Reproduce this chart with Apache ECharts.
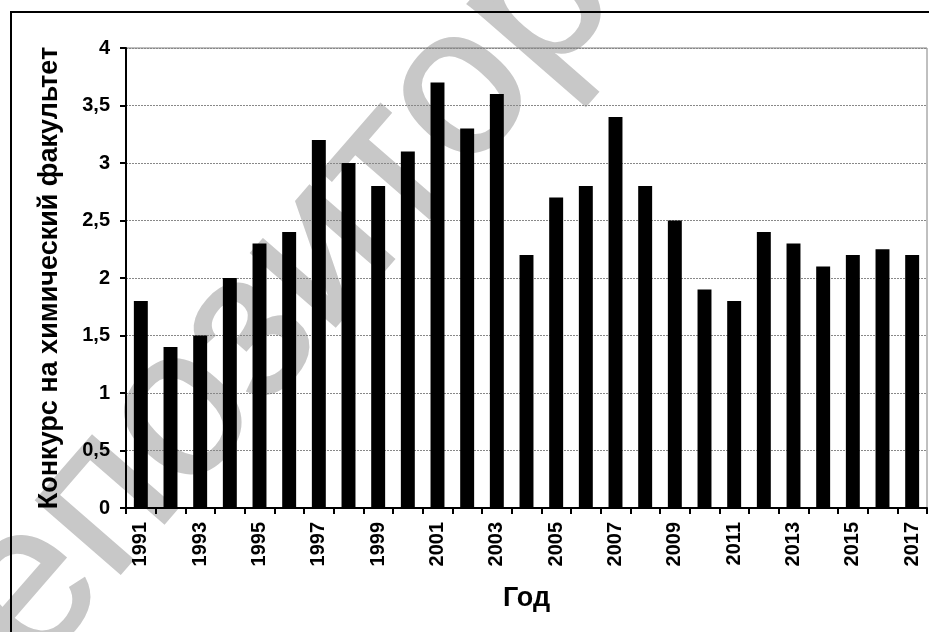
<!DOCTYPE html>
<html>
<head>
<meta charset="utf-8">
<script src="https://cdn.jsdelivr.net/npm/echarts@6/dist/echarts.min.js"></script>
<style>
html,body{margin:0;padding:0;background:#fff;}
#chart{width:929px;height:632px;}
</style>
</head>
<body>
<div id="chart"></div>
<script>
var years = ['1991','1992','1993','1994','1995','1996','1997','1998','1999','2000','2001','2002','2003','2004','2005','2006','2007','2008','2009','2010','2011','2012','2013','2014','2015','2016','2017'];
var competition = [1.8,1.4,1.5,2.0,2.3,2.4,3.2,3.0,2.8,3.1,3.7,3.3,3.6,2.2,2.7,2.8,3.4,2.8,2.5,1.9,1.8,2.4,2.3,2.1,2.2,2.25,2.2];
var yAxisTitle = 'Конкурс на химический факультет';
var xAxisTitle = 'Год';
var watermarkText = 'Репозиторий';

var chart = echarts.init(document.getElementById('chart'), null, {renderer:'canvas'});
var FONT = 'Liberation Sans, Arial, sans-serif';
var option = {
  animation: false,
  backgroundColor: '#ffffff',
  graphic: [
    {
      type: 'text', z: -10, zlevel: 0,
      x: -97, y: 735, rotation: 49 * Math.PI / 180,
      style: { text: watermarkText, font: 'normal 212px ' + FONT, fill: '#c8c8c8', stroke: '#c8c8c8', lineWidth: 2, verticalAlign: 'middle', align: 'left' },
      silent: true
    },
    {
      type: 'rect', z: 100,
      shape: { x: 11, y: 12, width: 940, height: 650 },
      style: { fill: 'none', stroke: '#000', lineWidth: 2 },
      silent: true
    }
  ],
  grid: {
    left: 126, right: 2, top: 48, bottom: 124,
    show: true, borderColor: '#808080', borderWidth: 1, backgroundColor: 'transparent'
  },
  xAxis: {
    type: 'category',
    data: years,
    name: xAxisTitle,
    nameLocation: 'middle',
    nameGap: 77,
    nameTextStyle: { fontFamily: FONT, fontWeight: 'bold', fontSize: 27, color: '#000' },
    axisLine: { lineStyle: { color: '#000', width: 2 } },
    axisTick: { show: true, alignWithLabel: false, interval: 0, length: 6, lineStyle: { color: '#000', width: 2 } },
    axisLabel: { interval: 1, rotate: 90, margin: 14, fontFamily: FONT, fontWeight: 'bold', fontSize: 20, color: '#000' }
  },
  yAxis: {
    type: 'value',
    min: 0, max: 4, interval: 0.5,
    name: yAxisTitle,
    nameLocation: 'middle',
    nameRotate: 90,
    nameGap: 63,
    nameTextStyle: { fontFamily: FONT, fontWeight: 'bold', fontSize: 27, color: '#000' },
    axisLine: { show: true, lineStyle: { color: '#000', width: 2 } },
    axisTick: { show: true, length: 6, lineStyle: { color: '#000', width: 2 } },
    axisLabel: {
      margin: 16, fontFamily: FONT, fontWeight: 'bold', fontSize: 20, color: '#000',
      formatter: function (v) { return String(v).replace('.', ','); }
    },
    splitLine: { show: true, lineStyle: { color: '#888', width: 1, type: [2, 1] } }
  },
  series: [{
    type: 'bar',
    data: competition,
    barWidth: '47%',
    itemStyle: { color: '#000' }
  }]
};
chart.setOption(option);
</script>
</body>
</html>
